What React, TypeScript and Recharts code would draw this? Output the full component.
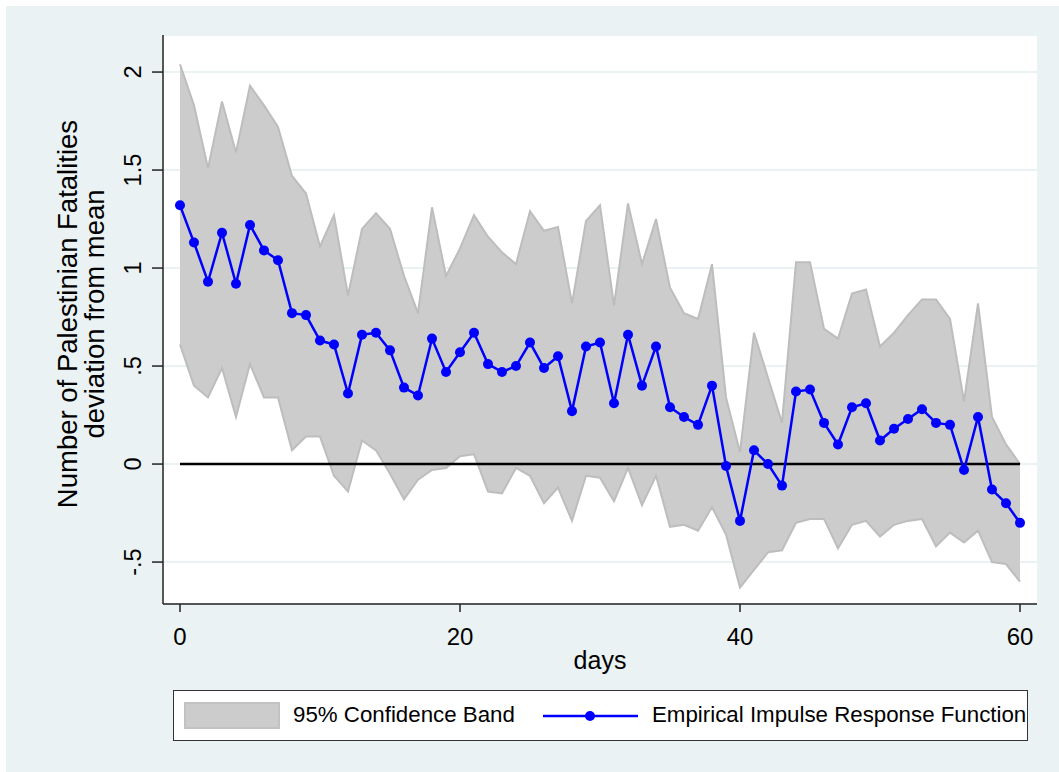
import { Area, CartesianGrid, ComposedChart, Line, ReferenceLine, XAxis, YAxis } from "recharts";

const days = [
  0, 1, 2, 3, 4, 5, 6, 7, 8, 9, 10, 11, 12, 13, 14, 15, 16, 17, 18, 19, 20, 21, 22, 23, 24, 25, 26, 27, 28, 29, 30,
  31, 32, 33, 34, 35, 36, 37, 38, 39, 40, 41, 42, 43, 44, 45, 46, 47, 48, 49, 50, 51, 52, 53, 54, 55, 56, 57, 58, 59, 60,
];

// empirical impulse response
const irf = [
  1.32, 1.13, 0.93, 1.18, 0.92, 1.22, 1.09, 1.04, 0.77, 0.76,
  0.63, 0.61, 0.36, 0.66, 0.67, 0.58, 0.39, 0.35, 0.64, 0.47,
  0.57, 0.67, 0.51, 0.47, 0.5, 0.62, 0.49, 0.55, 0.27, 0.6,
  0.62, 0.31, 0.66, 0.4, 0.6, 0.29, 0.24, 0.2, 0.4, -0.01,
  -0.29, 0.07, 0.0, -0.11, 0.37, 0.38, 0.21, 0.1, 0.29, 0.31,
  0.12, 0.18, 0.23, 0.28, 0.21, 0.2, -0.03, 0.24, -0.13, -0.2, -0.3,
];

// 95% band
const upper = [
  2.04, 1.83, 1.51, 1.85, 1.59, 1.93, 1.83, 1.72, 1.47, 1.38,
  1.11, 1.27, 0.86, 1.2, 1.28, 1.2, 0.96, 0.77, 1.31, 0.96,
  1.1, 1.27, 1.16, 1.08, 1.02, 1.29, 1.19, 1.21, 0.82, 1.24,
  1.32, 0.81, 1.33, 1.02, 1.25, 0.9, 0.77, 0.74, 1.02, 0.34,
  0.06, 0.67, 0.44, 0.21, 1.03, 1.03, 0.69, 0.64, 0.87, 0.89,
  0.6, 0.67, 0.76, 0.84, 0.84, 0.74, 0.32, 0.82, 0.24, 0.1, 0.0,
];

const lower = [
  0.61, 0.4, 0.34, 0.49, 0.24, 0.51, 0.34, 0.34, 0.07, 0.14,
  0.14, -0.06, -0.14, 0.12, 0.07, -0.05, -0.18, -0.08, -0.03, -0.02,
  0.04, 0.05, -0.14, -0.15, -0.02, -0.06, -0.2, -0.12, -0.29, -0.06,
  -0.07, -0.19, -0.02, -0.21, -0.06, -0.32, -0.31, -0.34, -0.22, -0.36,
  -0.63, -0.54, -0.45, -0.44, -0.3, -0.28, -0.28, -0.43, -0.31, -0.29,
  -0.37, -0.31, -0.29, -0.28, -0.42, -0.35, -0.4, -0.34, -0.5, -0.51, -0.6,
];

const xTicks = [0, 20, 40, 60];
const yTicks = [-0.5, 0, 0.5, 1, 1.5, 2];
const yTickLabels = ["-.5", "0", ".5", "1", "1.5", "2"];

const data = days.map((d, i) => ({ day: d, band: [lower[i], upper[i]], irf: irf[i] }));

const FONT = "Arial, 'Liberation Sans', Helvetica, sans-serif";
const BG = "#eaf2f3";

function YTick(props: any) {
  const { x, y, payload } = props;
  const idx = yTicks.indexOf(payload.value);
  const tx = x - 9;
  return (
    <text
      x={tx}
      y={y}
      transform={`rotate(-90, ${tx}, ${y})`}
      textAnchor="middle"
      fontSize={23.5}
      fontFamily={FONT}
      fill="#000"
    >
      {idx >= 0 ? yTickLabels[idx] : payload.value}
    </text>
  );
}

function XTick(props: any) {
  const { x, y, payload } = props;
  return (
    <text x={x} y={y + 31} textAnchor="middle" fontSize={24} fontFamily={FONT} fill="#000">
      {payload.value}
    </text>
  );
}

function YTitle() {
  const cy = 314;
  return (
    <g fontFamily={FONT} fontSize={27.5} fill="#000">
      <text x={77} y={cy} transform={`rotate(-90, 77, ${cy})`} textAnchor="middle">
        Number of Palestinian Fatalities
      </text>
      <text x={104} y={cy} transform={`rotate(-90, 104, ${cy})`} textAnchor="middle">
        deviation from mean
      </text>
    </g>
  );
}

export default function App() {
  return (
    <div style={{ position: "absolute", left: 0, top: 0, width: 1059, height: 772, background: "#fff" }}>
      <div style={{ position: "absolute", left: 6, top: 6, width: 1053, height: 766, background: BG }} />
      <div style={{ position: "absolute", left: 0, top: 0 }}>
        <ComposedChart width={1059} height={772} data={data} margin={{ top: 35, right: 22, left: 0, bottom: 0 }}>
          <CartesianGrid vertical={false} fill="#fff" stroke={BG} strokeWidth={2} />
          <XAxis
            dataKey="day"
            type="number"
            domain={[-1.214, 61.214]}
            ticks={xTicks}
            height={168}
            tickSize={8}
            tick={<XTick />}
            axisLine={{ stroke: "#222", strokeWidth: 1.5 }}
            tickLine={{ stroke: "#222", strokeWidth: 1.5 }}
            allowDataOverflow
            label={{ value: "days", position: "insideTop", offset: 47, fontSize: 25, fontFamily: FONT, fill: "#000" }}
          />
          <YAxis
            type="number"
            domain={[-0.714, 2.189]}
            ticks={yTicks}
            width={163}
            tickSize={11}
            tick={<YTick />}
            axisLine={{ stroke: "#222", strokeWidth: 1.5 }}
            tickLine={{ stroke: "#222", strokeWidth: 1.5 }}
            allowDataOverflow
            label={{ content: () => <YTitle /> }}
          />
          <Area
            type="linear"
            dataKey="band"
            fill="#cccccc"
            fillOpacity={1}
            stroke="#bdbdbd"
            strokeWidth={2}
            isAnimationActive={false}
          />
          <ReferenceLine
            segment={[
              { x: 0, y: 0 },
              { x: 60, y: 0 },
            ]}
            stroke="#000"
            strokeWidth={2.5}
          />
          <Line
            type="linear"
            dataKey="irf"
            stroke="#0000ff"
            strokeWidth={2.5}
            dot={{ r: 5, fill: "#0000ff", stroke: "#0000ff", strokeWidth: 0 }}
            isAnimationActive={false}
          />
        </ComposedChart>
      </div>
      <div
        style={{
          position: "absolute",
          left: 173,
          top: 690,
          width: 853,
          height: 49,
          background: "#fff",
          border: "1px solid #333",
          fontFamily: FONT,
          fontSize: 22.3,
          color: "#000",
        }}
      >
        <div
          style={{
            position: "absolute",
            left: 10,
            top: 11,
            width: 92,
            height: 23,
            background: "#cccccc",
            border: "2px solid #c2c2c2",
          }}
        />
        <div style={{ position: "absolute", left: 119, top: 11, lineHeight: "26px", whiteSpace: "nowrap" }}>
          95% Confidence Band
        </div>
        <svg style={{ position: "absolute", left: 369, top: 15, overflow: "visible" }} width={96} height={20}>
          <line x1={0} y1={10} x2={95} y2={10} stroke="#0000ff" strokeWidth={2.5} />
          <circle cx={47} cy={10} r={5} fill="#0000ff" />
        </svg>
        <div style={{ position: "absolute", left: 478, top: 11, lineHeight: "26px", whiteSpace: "nowrap" }}>
          Empirical Impulse Response Function
        </div>
      </div>
    </div>
  );
}
